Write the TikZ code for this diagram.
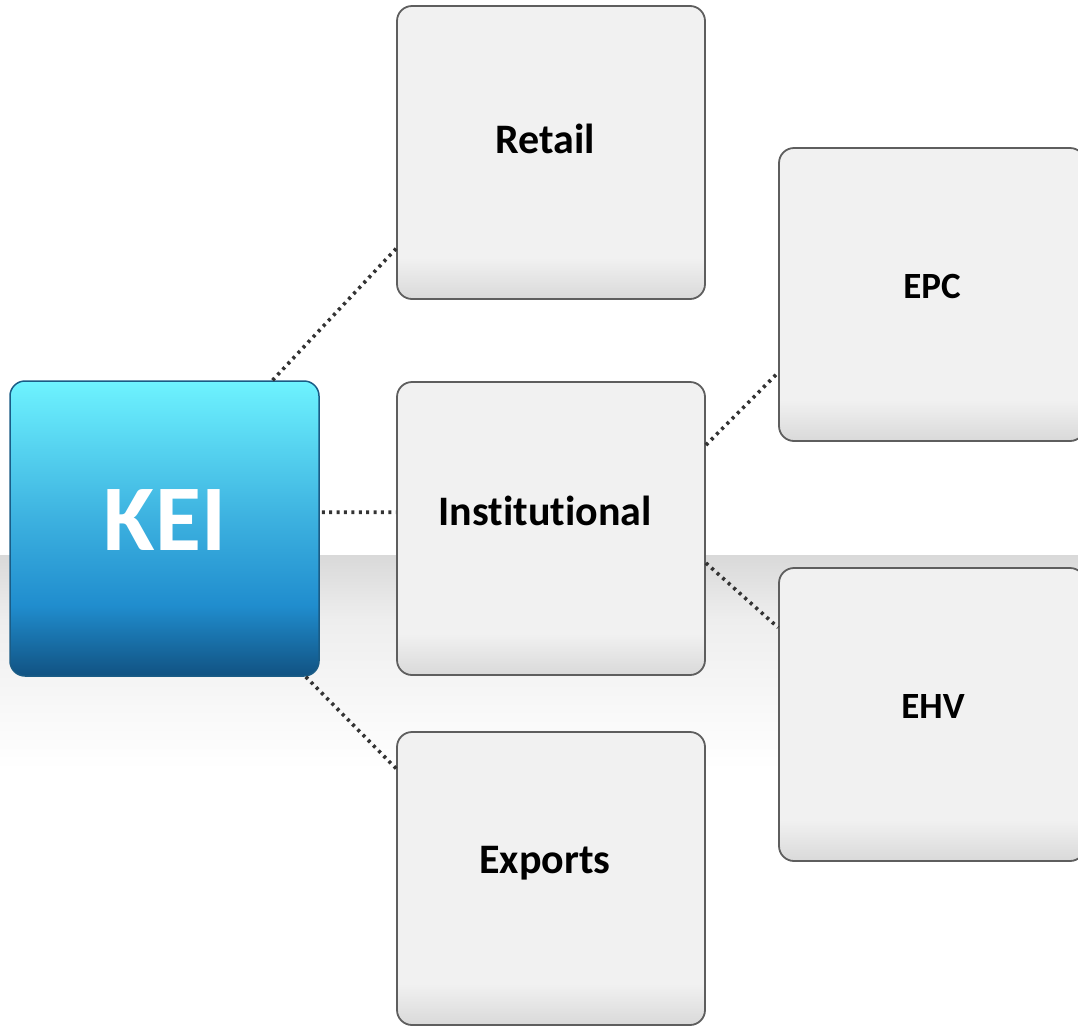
\documentclass[tikz,border=0pt]{standalone}
\usepackage{fontspec}
\setmainfont{Carlito}[Ligatures={NoCommon,NoRare,NoContextual}]
\usetikzlibrary{calc}
\definecolor{boxtop}{HTML}{F1F1F1}
\definecolor{boxbot}{HTML}{D9D9D9}
\definecolor{boxline}{HTML}{5E5E5E}
\definecolor{keitop}{HTML}{6EF3FF}
\definecolor{keimid}{HTML}{3DB2E0}
\definecolor{keilow}{HTML}{208DCE}
\definecolor{keibot}{HTML}{115282}
\definecolor{keiline}{HTML}{1A5C86}
\definecolor{dotcol}{HTML}{333333}
\definecolor{bandtop}{HTML}{D9D9D9}
\pgfdeclareverticalshading{boxshade}{100bp}{color(0bp)=(boxbot); color(25bp)=(boxbot); color(32bp)=(boxtop); color(100bp)=(boxtop)}
\pgfdeclareverticalshading{keishade}{100bp}{color(0bp)=(keibot); color(25bp)=(keibot); color(37bp)=(keilow); color(52bp)=(keimid); color(75bp)=(keitop); color(100bp)=(keitop)}
\pgfdeclareverticalshading{bandshade}{100bp}{color(0bp)=(white); color(25bp)=(white); color(60bp)=(bandtop!45!white); color(75bp)=(bandtop); color(100bp)=(bandtop)}
\tikzset{
  gbox/.style={draw=boxline, line width=1.8pt, rounded corners=15pt, shading=boxshade,
    minimum width=308pt, minimum height=293pt, inner sep=0pt},
  sbox/.style={gbox, minimum width=306pt},
  keibox/.style={draw=keiline, line width=1.5pt, rounded corners=15pt, shading=keishade,
    minimum width=309pt, minimum height=295pt, inner sep=0pt},
  bigtxt/.style={anchor=base, inner sep=0pt, font=\bfseries\fontsize{42}{48}\selectfont, text=black},
  smalltxt/.style={anchor=base, inner sep=0pt, font=\bfseries\fontsize{37}{42}\selectfont, text=black},
  keitxt/.style={anchor=base, inner sep=0pt, font=\bfseries\fontsize{94}{100}\selectfont, text=white},
  link/.style={draw=dotcol, line width=3.6pt, dash pattern=on 3pt off 4.4pt}
}
\begin{document}
\begin{tikzpicture}[x=1pt,y=-1pt]
\useasboundingbox (0,0) rectangle (1078,1026);
\clip (0,0) rectangle (1078,1026);
\shade[shading=bandshade] (0,555) rectangle (1078,770);
\node[keibox] (kei) at (164.5,528.5) {};
\node[keitxt] (keit) at (165,550) {KEI};
\node[gbox] (retail) at (551,152.5) {};
\node[bigtxt] (retailt) at (545,153) {Retail};
\node[gbox] (inst) at (551,528.5) {};
\node[bigtxt] (instt) at (545,525) {Institutional};
\node[gbox] (exp) at (551,878.5) {};
\node[bigtxt] (expt) at (545,873) {Exports};
\node[sbox] (epc) at (932,294.5) {};
\node[smalltxt] (epct) at (932,298) {EPC};
\node[sbox] (ehv) at (932,714.5) {};
\node[smalltxt] (ehvt) at (933,718) {EHV};
\draw[link] ($(kei.north west)!0.848!(kei.north east)$) -- ($(retail.north west)!0.826!(retail.south west)$);
\draw[link] ($(kei.north east)!0.445!(kei.south east)+(2,0)$) -- ($(inst.north west)!0.445!(inst.south west)$);
\draw[link] ($(kei.south west)!0.955!(kei.south east)$) -- ($(exp.north west)!0.127!(exp.south west)$);
\draw[link] ($(inst.north east)!0.217!(inst.south east)$) -- ($(epc.north west)!0.765!(epc.south west)$);
\draw[link] ($(inst.north east)!0.617!(inst.south east)$) -- ($(ehv.north west)!0.205!(ehv.south west)$);
\end{tikzpicture}
\end{document}
